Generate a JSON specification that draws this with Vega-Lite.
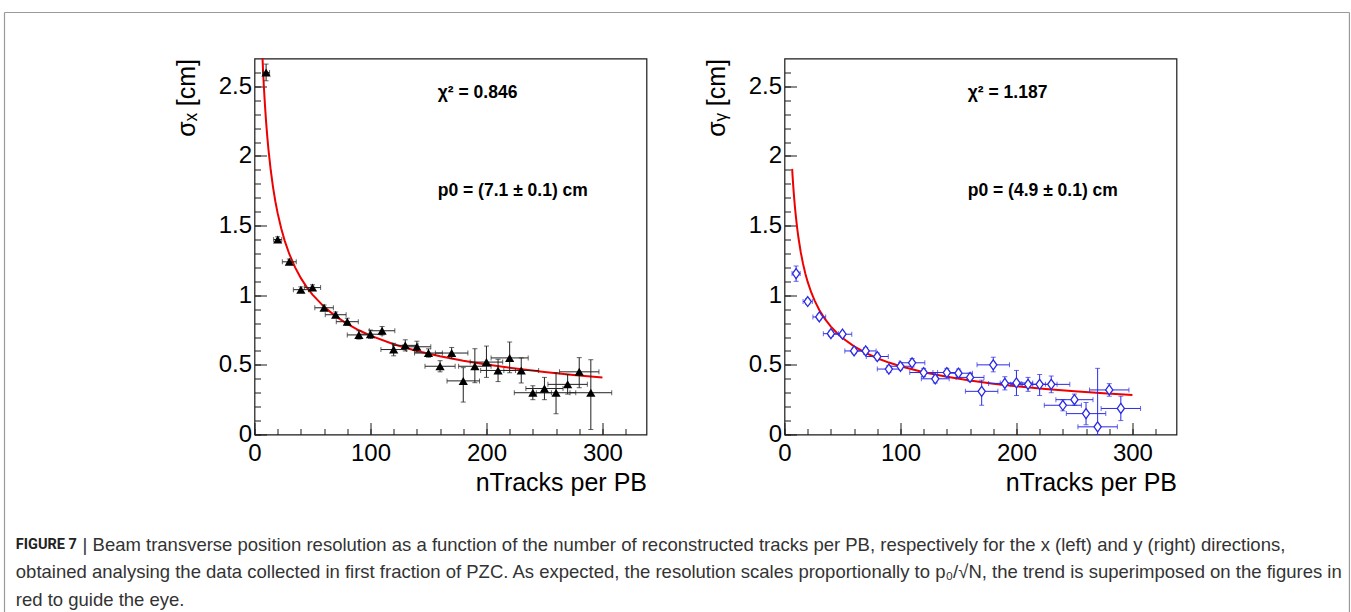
{
  "$schema": "https://vega.github.io/schema/vega-lite/v6.json",
  "padding": {"left": 2.5, "top": 10.5, "right": 1, "bottom": 0},
  "background": "white",
  "bounds": "flush",
  "spacing": 138,
  "title": {
    "text": "FIGURE 7",
    "subtitle": [
      "\u200b\u00a0\u00a0\u00a0\u00a0\u00a0\u00a0\u00a0\u00a0\u00a0\u00a0\u00a0\u00a0\u00a0| Beam transverse position resolution as a function of the number of reconstructed tracks per PB, respectively for the x (left) and y (right) directions,",
      "obtained analysing the data collected in first fraction of PZC. As expected, the resolution scales proportionally to p\u2080/\u221aN, the trend is superimposed on the figures in",
      "red to guide the eye."
    ],
    "orient": "bottom",
    "anchor": "start",
    "frame": "bounds",
    "dx": 12.5,
    "offset": -76,
    "font": "Roboto",
    "fontSize": 14.5,
    "fontWeight": "bold",
    "color": "#222222",
    "subtitleFont": "Liberation Sans",
    "subtitleFontSize": 18.5,
    "subtitleColor": "#333333",
    "subtitleLineHeight": 27.5,
    "subtitlePadding": -16.5
  },
  "datasets": {
    "left": [
      {"x": 10, "y": 2.6, "xlo": 7, "xhi": 13, "ylo": 2.54, "yhi": 2.66},
      {"x": 20, "y": 1.4, "xlo": 16.5, "xhi": 23.5, "ylo": 1.38, "yhi": 1.42},
      {"x": 30, "y": 1.24, "xlo": 24, "xhi": 36, "ylo": 1.22, "yhi": 1.26},
      {"x": 40, "y": 1.04, "xlo": 33.5, "xhi": 46.5, "ylo": 1.02, "yhi": 1.06},
      {"x": 50, "y": 1.055, "xlo": 43, "xhi": 57, "ylo": 1.035, "yhi": 1.075},
      {"x": 60, "y": 0.91, "xlo": 52, "xhi": 68, "ylo": 0.89, "yhi": 0.93},
      {"x": 70, "y": 0.86, "xlo": 61, "xhi": 79, "ylo": 0.84, "yhi": 0.88},
      {"x": 80, "y": 0.81, "xlo": 70.5, "xhi": 89.5, "ylo": 0.785, "yhi": 0.835},
      {"x": 90, "y": 0.715, "xlo": 80, "xhi": 100, "ylo": 0.685, "yhi": 0.745},
      {"x": 100, "y": 0.72, "xlo": 90, "xhi": 110, "ylo": 0.69, "yhi": 0.75},
      {"x": 110, "y": 0.745, "xlo": 99, "xhi": 121, "ylo": 0.715, "yhi": 0.775},
      {"x": 120, "y": 0.61, "xlo": 109, "xhi": 131, "ylo": 0.565, "yhi": 0.655},
      {"x": 130, "y": 0.64, "xlo": 119, "xhi": 141, "ylo": 0.6, "yhi": 0.68},
      {"x": 140, "y": 0.63, "xlo": 128, "xhi": 152, "ylo": 0.59, "yhi": 0.67},
      {"x": 150, "y": 0.585, "xlo": 138, "xhi": 162, "ylo": 0.555, "yhi": 0.615},
      {"x": 160, "y": 0.49, "xlo": 147, "xhi": 173, "ylo": 0.45, "yhi": 0.53},
      {"x": 170, "y": 0.585, "xlo": 156, "xhi": 184, "ylo": 0.545, "yhi": 0.625},
      {"x": 180, "y": 0.385, "xlo": 166, "xhi": 194, "ylo": 0.233, "yhi": 0.48},
      {"x": 190, "y": 0.49, "xlo": 176, "xhi": 204, "ylo": 0.372, "yhi": 0.616},
      {"x": 200, "y": 0.52, "xlo": 186, "xhi": 214, "ylo": 0.41, "yhi": 0.635},
      {"x": 210, "y": 0.46, "xlo": 195, "xhi": 225, "ylo": 0.38, "yhi": 0.54},
      {"x": 220, "y": 0.55, "xlo": 204, "xhi": 236, "ylo": 0.444, "yhi": 0.664},
      {"x": 230, "y": 0.46, "xlo": 215, "xhi": 245, "ylo": 0.37, "yhi": 0.55},
      {"x": 240, "y": 0.3, "xlo": 224, "xhi": 256, "ylo": 0.25, "yhi": 0.35},
      {"x": 250, "y": 0.33, "xlo": 234, "xhi": 266, "ylo": 0.25, "yhi": 0.41},
      {"x": 260, "y": 0.3, "xlo": 243, "xhi": 277, "ylo": 0.149, "yhi": 0.444},
      {"x": 270, "y": 0.36, "xlo": 253, "xhi": 287, "ylo": 0.29, "yhi": 0.43},
      {"x": 280, "y": 0.45, "xlo": 263, "xhi": 297, "ylo": 0.336, "yhi": 0.552},
      {"x": 290, "y": 0.3, "xlo": 272, "xhi": 308, "ylo": 0.036, "yhi": 0.537}
    ],
    "right": [
      {"x": 10, "y": 1.156, "xlo": 6.5, "xhi": 13.5, "ylo": 1.1, "yhi": 1.21},
      {"x": 20, "y": 0.955, "xlo": 16, "xhi": 24, "ylo": 0.935, "yhi": 0.975},
      {"x": 30, "y": 0.844, "xlo": 24.5, "xhi": 35.5, "ylo": 0.824, "yhi": 0.864},
      {"x": 40, "y": 0.724, "xlo": 33.5, "xhi": 46.5, "ylo": 0.704, "yhi": 0.744},
      {"x": 50, "y": 0.72, "xlo": 42, "xhi": 58, "ylo": 0.7, "yhi": 0.74},
      {"x": 60, "y": 0.6, "xlo": 52, "xhi": 68, "ylo": 0.58, "yhi": 0.62},
      {"x": 70, "y": 0.6, "xlo": 61, "xhi": 79, "ylo": 0.575, "yhi": 0.625},
      {"x": 80, "y": 0.56, "xlo": 70.5, "xhi": 89.5, "ylo": 0.535, "yhi": 0.585},
      {"x": 90, "y": 0.47, "xlo": 80, "xhi": 100, "ylo": 0.445, "yhi": 0.495},
      {"x": 100, "y": 0.49, "xlo": 90, "xhi": 110, "ylo": 0.465, "yhi": 0.515},
      {"x": 110, "y": 0.515, "xlo": 99, "xhi": 121, "ylo": 0.485, "yhi": 0.545},
      {"x": 120, "y": 0.445, "xlo": 108, "xhi": 132, "ylo": 0.415, "yhi": 0.475},
      {"x": 130, "y": 0.4, "xlo": 118, "xhi": 142, "ylo": 0.37, "yhi": 0.43},
      {"x": 140, "y": 0.445, "xlo": 128, "xhi": 152, "ylo": 0.415, "yhi": 0.475},
      {"x": 150, "y": 0.44, "xlo": 138, "xhi": 162, "ylo": 0.41, "yhi": 0.47},
      {"x": 160, "y": 0.41, "xlo": 148, "xhi": 172, "ylo": 0.38, "yhi": 0.44},
      {"x": 170, "y": 0.31, "xlo": 156, "xhi": 184, "ylo": 0.21, "yhi": 0.39},
      {"x": 180, "y": 0.5, "xlo": 166, "xhi": 194, "ylo": 0.45, "yhi": 0.555},
      {"x": 190, "y": 0.367, "xlo": 176, "xhi": 204, "ylo": 0.32, "yhi": 0.415},
      {"x": 200, "y": 0.37, "xlo": 186, "xhi": 214, "ylo": 0.28, "yhi": 0.46},
      {"x": 210, "y": 0.36, "xlo": 195, "xhi": 225, "ylo": 0.31, "yhi": 0.41},
      {"x": 220, "y": 0.36, "xlo": 205, "xhi": 235, "ylo": 0.28, "yhi": 0.43},
      {"x": 230, "y": 0.36, "xlo": 214, "xhi": 246, "ylo": 0.3, "yhi": 0.42},
      {"x": 240, "y": 0.21, "xlo": 224, "xhi": 256, "ylo": 0.17, "yhi": 0.25},
      {"x": 250, "y": 0.25, "xlo": 234, "xhi": 266, "ylo": 0.21, "yhi": 0.29},
      {"x": 260, "y": 0.15, "xlo": 243, "xhi": 277, "ylo": 0.07, "yhi": 0.23},
      {"x": 270, "y": 0.055, "xlo": 253, "xhi": 287, "ylo": 0, "yhi": 0.475},
      {"x": 280, "y": 0.32, "xlo": 263, "xhi": 297, "ylo": 0.275, "yhi": 0.365},
      {"x": 290, "y": 0.187, "xlo": 273, "xhi": 307, "ylo": 0.1, "yhi": 0.275}
    ],
    "fitL": [
      {"n": 6.9, "s": 2.703}, {"n": 7.5, "s": 2.5926}, {"n": 8, "s": 2.5102}, {"n": 9, "s": 2.3667},
      {"n": 10, "s": 2.2452}, {"n": 11, "s": 2.1407}, {"n": 12, "s": 2.0496}, {"n": 14, "s": 1.8976},
      {"n": 16, "s": 1.775}, {"n": 18, "s": 1.6735}, {"n": 20, "s": 1.5876}, {"n": 23, "s": 1.4805},
      {"n": 26, "s": 1.3924}, {"n": 30, "s": 1.2963}, {"n": 35, "s": 1.2001}, {"n": 40, "s": 1.1226},
      {"n": 45, "s": 1.0584}, {"n": 50, "s": 1.0041}, {"n": 60, "s": 0.9166}, {"n": 70, "s": 0.8486},
      {"n": 80, "s": 0.7938}, {"n": 90, "s": 0.7484}, {"n": 100, "s": 0.71}, {"n": 120, "s": 0.6481},
      {"n": 140, "s": 0.6001}, {"n": 160, "s": 0.5613}, {"n": 180, "s": 0.5292}, {"n": 200, "s": 0.502},
      {"n": 225, "s": 0.4733}, {"n": 250, "s": 0.449}, {"n": 275, "s": 0.4281}, {"n": 300, "s": 0.4099}
    ],
    "fitR": [
      {"n": 6.6, "s": 1.9073}, {"n": 7, "s": 1.852}, {"n": 7.5, "s": 1.7892}, {"n": 8, "s": 1.7324},
      {"n": 9, "s": 1.6333}, {"n": 10, "s": 1.5495}, {"n": 11, "s": 1.4774}, {"n": 12, "s": 1.4145},
      {"n": 14, "s": 1.3096}, {"n": 16, "s": 1.225}, {"n": 18, "s": 1.155}, {"n": 20, "s": 1.0957},
      {"n": 23, "s": 1.0217}, {"n": 26, "s": 0.961}, {"n": 30, "s": 0.8946}, {"n": 35, "s": 0.8282},
      {"n": 40, "s": 0.7748}, {"n": 45, "s": 0.7305}, {"n": 50, "s": 0.693}, {"n": 60, "s": 0.6326},
      {"n": 70, "s": 0.5857}, {"n": 80, "s": 0.5478}, {"n": 90, "s": 0.5165}, {"n": 100, "s": 0.49},
      {"n": 120, "s": 0.4473}, {"n": 140, "s": 0.4141}, {"n": 160, "s": 0.3874}, {"n": 180, "s": 0.3652},
      {"n": 200, "s": 0.3465}, {"n": 225, "s": 0.3267}, {"n": 250, "s": 0.3099}, {"n": 275, "s": 0.2955},
      {"n": 300, "s": 0.2829}
    ],
    "notesL": [
      {"x": 158, "y": 2.45, "label": "\u03c7\u00b2 = 0.846"},
      {"x": 158, "y": 1.745, "label": "p0 = (7.1 \u00b1 0.1) cm"}
    ],
    "notesR": [
      {"x": 158, "y": 2.45, "label": "\u03c7\u00b2 = 1.187"},
      {"x": 158, "y": 1.745, "label": "p0 = (4.9 \u00b1 0.1) cm"}
    ]
  },
  "hconcat": [
    {
      "width": 392,
      "height": 376,
      "resolve": {"axis": {"x": "independent", "y": "independent"}},
      "layer": [
        {
          "data": {"values": [{}]},
          "mark": {"type": "rule", "color": "#9a9a9a", "strokeWidth": 1.2},
          "encoding": {
            "x": {"datum": -215.56, "type": "quantitative", "scale": {"domain": [0, 338], "nice": false, "zero": false}, "axis": null},
            "x2": {"datum": 944.1},
            "y": {"datum": 3.0303, "type": "quantitative", "scale": {"domain": [0, 2.7], "nice": false, "zero": false}, "axis": null}
          }
        },
        {
          "data": {"values": [{}]},
          "mark": {"type": "rule", "color": "#9a9a9a", "strokeWidth": 1.2},
          "encoding": {
            "x": {"datum": -215.56, "type": "quantitative", "scale": {"domain": [0, 338], "nice": false, "zero": false}, "axis": null},
            "y": {"datum": 3.0303, "type": "quantitative", "scale": {"domain": [0, 2.7], "nice": false, "zero": false}, "axis": null},
            "y2": {"datum": -1.278}
          }
        },
        {
          "data": {"values": [{}]},
          "mark": {"type": "rule", "color": "#9a9a9a", "strokeWidth": 1.2},
          "encoding": {
            "x": {"datum": 944.1, "type": "quantitative", "scale": {"domain": [0, 338], "nice": false, "zero": false}, "axis": null},
            "y": {"datum": 3.0303, "type": "quantitative", "scale": {"domain": [0, 2.7], "nice": false, "zero": false}, "axis": null},
            "y2": {"datum": -1.278}
          }
        },
        {
          "data": {"name": "fitL"},
          "mark": {"type": "line", "color": "#ee0000", "strokeWidth": 2},
          "encoding": {
            "x": {"field": "n", "type": "quantitative", "scale": {"domain": [0, 338], "nice": false, "zero": false},
                  "axis": {"orient": "bottom", "values": [0, 20, 40, 60, 80, 100, 120, 140, 160, 180, 200, 220, 240, 260, 280, 300, 320], "labels": false, "tickSize": -6, "title": null}},
            "y": {"field": "s", "type": "quantitative", "scale": {"domain": [0, 2.7], "nice": false, "zero": false},
                  "axis": {"orient": "left", "values": [0, 0.1, 0.2, 0.3, 0.4, 0.5, 0.6, 0.7, 0.8, 0.9, 1, 1.1, 1.2, 1.3, 1.4, 1.5, 1.6, 1.7, 1.8, 1.9, 2, 2.1, 2.2, 2.3, 2.4, 2.5, 2.6], "labels": false, "tickSize": -6, "title": null}}
          }
        },
        {
          "data": {"name": "left"},
          "mark": {"type": "rule", "color": "#222222", "strokeWidth": 1},
          "encoding": {
            "x": {"field": "x", "type": "quantitative", "scale": {"domain": [0, 338], "nice": false, "zero": false}, "axis": null},
            "y": {"field": "ylo", "type": "quantitative", "scale": {"domain": [0, 2.7], "nice": false, "zero": false}, "axis": null},
            "y2": {"field": "yhi"}
          }
        },
        {
          "data": {"name": "left"},
          "mark": {"type": "rule", "color": "#222222", "strokeWidth": 1},
          "encoding": {
            "x": {"field": "xlo", "type": "quantitative", "scale": {"domain": [0, 338], "nice": false, "zero": false}, "axis": null},
            "x2": {"field": "xhi"},
            "y": {"field": "y", "type": "quantitative", "scale": {"domain": [0, 2.7], "nice": false, "zero": false}, "axis": null}
          }
        },
        {
          "data": {"name": "left"},
          "transform": [{"fold": ["ylo", "yhi"], "as": ["end", "v"]}],
          "mark": {"type": "tick", "orient": "horizontal", "color": "#222222", "size": 5, "thickness": 1},
          "encoding": {
            "x": {"field": "x", "type": "quantitative", "scale": {"domain": [0, 338], "nice": false, "zero": false}, "axis": null},
            "y": {"field": "v", "type": "quantitative", "scale": {"domain": [0, 2.7], "nice": false, "zero": false}, "axis": null}
          }
        },
        {
          "data": {"name": "left"},
          "transform": [{"fold": ["xlo", "xhi"], "as": ["end", "v"]}],
          "mark": {"type": "tick", "orient": "vertical", "color": "#222222", "size": 5, "thickness": 1},
          "encoding": {
            "x": {"field": "v", "type": "quantitative", "scale": {"domain": [0, 338], "nice": false, "zero": false}, "axis": null},
            "y": {"field": "y", "type": "quantitative", "scale": {"domain": [0, 2.7], "nice": false, "zero": false}, "axis": null}
          }
        },
        {
          "data": {"name": "left"},
          "mark": {"type": "point", "shape": "triangle-up", "filled": true, "color": "#000000", "size": 85, "opacity": 1},
          "encoding": {
            "x": {"field": "x", "type": "quantitative", "scale": {"domain": [0, 338], "nice": false, "zero": false},
                  "axis": {"orient": "bottom", "values": [0, 100, 200, 300], "format": "d", "tickSize": -12, "labelPadding": 19, "title": "nTracks per PB", "titleAnchor": "end", "titlePadding": 5}},
            "y": {"field": "y", "type": "quantitative", "scale": {"domain": [0, 2.7], "nice": false, "zero": false},
                  "axis": {"orient": "left", "values": [0, 0.5, 1, 1.5, 2, 2.5], "format": "~g", "tickSize": -12, "labelPadding": 15, "title": "\u03c3\u2093 [cm]", "titleAnchor": "end", "titlePadding": 19}}
          }
        },
        {
          "data": {"name": "notesL"},
          "mark": {"type": "text", "align": "left", "baseline": "middle", "font": "Liberation Sans", "fontSize": 17.5, "fontWeight": "bold", "color": "#000000"},
          "encoding": {
            "x": {"field": "x", "type": "quantitative", "scale": {"domain": [0, 338], "nice": false, "zero": false}, "axis": null},
            "y": {"field": "y", "type": "quantitative", "scale": {"domain": [0, 2.7], "nice": false, "zero": false}, "axis": null},
            "text": {"field": "label"}
          }
        }
      ]
    },
    {
      "width": 392,
      "height": 376,
      "resolve": {"axis": {"x": "independent", "y": "independent"}},
      "layer": [
        {
          "data": {"name": "fitR"},
          "mark": {"type": "line", "color": "#ee0000", "strokeWidth": 2},
          "encoding": {
            "x": {"field": "n", "type": "quantitative", "scale": {"domain": [0, 338], "nice": false, "zero": false},
                  "axis": {"orient": "bottom", "values": [0, 20, 40, 60, 80, 100, 120, 140, 160, 180, 200, 220, 240, 260, 280, 300, 320], "labels": false, "tickSize": -6, "title": null}},
            "y": {"field": "s", "type": "quantitative", "scale": {"domain": [0, 2.7], "nice": false, "zero": false},
                  "axis": {"orient": "left", "values": [0, 0.1, 0.2, 0.3, 0.4, 0.5, 0.6, 0.7, 0.8, 0.9, 1, 1.1, 1.2, 1.3, 1.4, 1.5, 1.6, 1.7, 1.8, 1.9, 2, 2.1, 2.2, 2.3, 2.4, 2.5, 2.6], "labels": false, "tickSize": -6, "title": null}}
          }
        },
        {
          "data": {"name": "right"},
          "mark": {"type": "rule", "color": "#2a2ae6", "strokeWidth": 1},
          "encoding": {
            "x": {"field": "x", "type": "quantitative", "scale": {"domain": [0, 338], "nice": false, "zero": false}, "axis": null},
            "y": {"field": "ylo", "type": "quantitative", "scale": {"domain": [0, 2.7], "nice": false, "zero": false}, "axis": null},
            "y2": {"field": "yhi"}
          }
        },
        {
          "data": {"name": "right"},
          "mark": {"type": "rule", "color": "#2a2ae6", "strokeWidth": 1},
          "encoding": {
            "x": {"field": "xlo", "type": "quantitative", "scale": {"domain": [0, 338], "nice": false, "zero": false}, "axis": null},
            "x2": {"field": "xhi"},
            "y": {"field": "y", "type": "quantitative", "scale": {"domain": [0, 2.7], "nice": false, "zero": false}, "axis": null}
          }
        },
        {
          "data": {"name": "right"},
          "transform": [{"fold": ["ylo", "yhi"], "as": ["end", "v"]}],
          "mark": {"type": "tick", "orient": "horizontal", "color": "#2a2ae6", "size": 5, "thickness": 1},
          "encoding": {
            "x": {"field": "x", "type": "quantitative", "scale": {"domain": [0, 338], "nice": false, "zero": false}, "axis": null},
            "y": {"field": "v", "type": "quantitative", "scale": {"domain": [0, 2.7], "nice": false, "zero": false}, "axis": null}
          }
        },
        {
          "data": {"name": "right"},
          "transform": [{"fold": ["xlo", "xhi"], "as": ["end", "v"]}],
          "mark": {"type": "tick", "orient": "vertical", "color": "#2a2ae6", "size": 5, "thickness": 1},
          "encoding": {
            "x": {"field": "v", "type": "quantitative", "scale": {"domain": [0, 338], "nice": false, "zero": false}, "axis": null},
            "y": {"field": "y", "type": "quantitative", "scale": {"domain": [0, 2.7], "nice": false, "zero": false}, "axis": null}
          }
        },
        {
          "data": {"name": "right"},
          "mark": {"type": "point", "shape": "M0,-1L0.72,0L0,1L-0.72,0Z", "filled": false, "fill": "#ffffff", "fillOpacity": 1, "stroke": "#2a2ae6", "strokeWidth": 1.3, "size": 100, "opacity": 1},
          "encoding": {
            "x": {"field": "x", "type": "quantitative", "scale": {"domain": [0, 338], "nice": false, "zero": false},
                  "axis": {"orient": "bottom", "values": [0, 100, 200, 300], "format": "d", "tickSize": -12, "labelPadding": 19, "title": "nTracks per PB", "titleAnchor": "end", "titlePadding": 5}},
            "y": {"field": "y", "type": "quantitative", "scale": {"domain": [0, 2.7], "nice": false, "zero": false},
                  "axis": {"orient": "left", "values": [0, 0.5, 1, 1.5, 2, 2.5], "format": "~g", "tickSize": -12, "labelPadding": 15, "title": "\u03c3\u1d67 [cm]", "titleAnchor": "end", "titlePadding": 19}}
          }
        },
        {
          "data": {"name": "notesR"},
          "mark": {"type": "text", "align": "left", "baseline": "middle", "font": "Liberation Sans", "fontSize": 17.5, "fontWeight": "bold", "color": "#000000"},
          "encoding": {
            "x": {"field": "x", "type": "quantitative", "scale": {"domain": [0, 338], "nice": false, "zero": false}, "axis": null},
            "y": {"field": "y", "type": "quantitative", "scale": {"domain": [0, 2.7], "nice": false, "zero": false}, "axis": null},
            "text": {"field": "label"}
          }
        }
      ]
    }
  ],
  "config": {
    "font": "Liberation Sans",
    "view": {"stroke": "#1a1a1a", "strokeWidth": 1.2},
    "axis": {
      "domain": false,
      "grid": false,
      "ticks": true,
      "tickColor": "#1a1a1a",
      "tickWidth": 1,
      "labelFont": "Liberation Sans",
      "labelFontSize": 24,
      "labelColor": "#000000",
      "labelFlush": false,
      "labelOverlap": false,
      "titleFont": "Liberation Sans",
      "titleFontSize": 25,
      "titleFontWeight": "normal",
      "titleColor": "#000000"
    }
  }
}
